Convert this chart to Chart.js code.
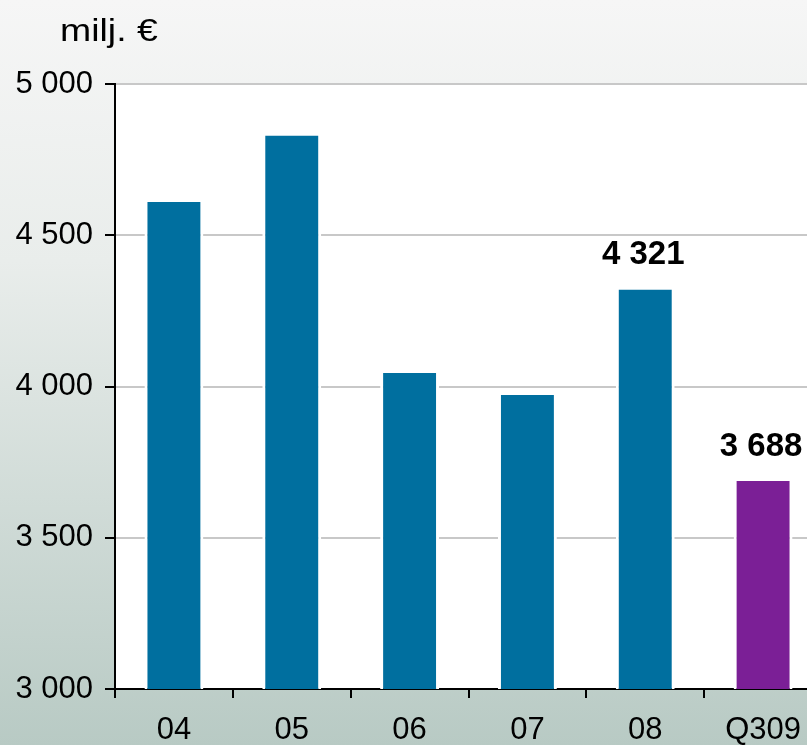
<!DOCTYPE html>
<html>
<head>
<meta charset="utf-8">
<script src="https://cdn.jsdelivr.net/npm/chart.js@4"></script>
<style>
  html, body { margin: 0; padding: 0; }
  body { width: 807px; height: 745px; overflow: hidden; }
  #wrap {
    width: 807px; height: 745px; overflow: hidden; position: relative;
    background: linear-gradient(to bottom, #f6f6f6 0%, #e9edeb 35%, #b8cac4 100%);
  }
  canvas { position: absolute; left: 0; top: 0; }
</style>
</head>
<body>
<div id="wrap"><canvas id="chart" width="822" height="745"></canvas></div>
<script>
const categories = ['04', '05', '06', '07', '08', 'Q309'];
const values = [4610, 4830, 4045, 3972, 4321, 3688];
const showValue = [false, false, false, false, true, true];
const barColors = ['#006f9f', '#006f9f', '#006f9f', '#006f9f', '#006f9f', '#7b1f96'];

const fmt = v => String(Math.round(v)).replace(/\B(?=(\d{3})+(?!\d))/g, ' ');

// white plot area + unit text
const background = {
    id: 'background',
    beforeDraw(chart) {
        const { ctx, chartArea: a } = chart;
        ctx.save();
        ctx.fillStyle = '#ffffff';
        ctx.fillRect(a.left, a.top, a.right - a.left, a.bottom - a.top);
        ctx.fillStyle = '#000000';
        ctx.font = '32px "Liberation Sans", Arial, sans-serif';
        ctx.textBaseline = 'alphabetic';
        ctx.translate(60, 41);
        ctx.scale(1.17, 1);
        ctx.fillText('milj. €', 0, 0);
        ctx.restore();
    }
};

// bold value labels above selected bars
const valueLabels = {
    id: 'valueLabels',
    afterDatasetsDraw(chart) {
        const { ctx } = chart;
        const meta = chart.getDatasetMeta(0);
        ctx.save();
        ctx.fillStyle = '#000000';
        ctx.font = 'bold 33px "Liberation Sans", Arial, sans-serif';
        ctx.textAlign = 'center';
        ctx.textBaseline = 'alphabetic';
        meta.data.forEach((bar, i) => {
            if (!showValue[i]) return;
            ctx.fillText(fmt(values[i]), bar.x - 2, bar.y - 25);
        });
        ctx.restore();
    }
};

new Chart(document.getElementById('chart'), {
    type: 'bar',
    data: {
        labels: categories,
        datasets: [{
            data: values,
            backgroundColor: barColors,
            borderColor: '#ffffff',
            borderWidth: { left: 3, right: 3, top: 0, bottom: 0 },
            borderSkipped: false,
            barPercentage: 0.5,
            categoryPercentage: 1
        }]
    },
    options: {
        responsive: false,
        animation: false,
        layout: { padding: { top: 84, right: 0, bottom: 0, left: 0 } },
        plugins: {
            legend: { display: false },
            tooltip: { enabled: false }
        },
        scales: {
            x: {
                offset: true,
                afterFit(scale) { scale.height = 56; },
                grid: {
                    offset: true,
                    drawOnChartArea: false,
                    tickLength: 9,
                    tickColor: '#000000',
                    lineWidth: 2
                },
                border: { color: '#000000', width: 2 },
                ticks: {
                    color: '#000000',
                    padding: 14,
                    font: { family: '"Liberation Sans", Arial, sans-serif', size: 31 }
                }
            },
            y: {
                min: 3000,
                max: 5000,
                afterFit(scale) { scale.width = 115; },
                grid: {
                    color: '#c8c8c8',
                    lineWidth: 2,
                    tickLength: 10,
                    tickColor: '#000000'
                },
                border: { color: '#000000', width: 2 },
                ticks: {
                    stepSize: 500,
                    color: '#000000',
                    padding: 12,
                    font: { family: '"Liberation Sans", Arial, sans-serif', size: 31 },
                    callback: v => fmt(v)
                }
            }
        }
    },
    plugins: [background, valueLabels]
});
</script>
</body>
</html>
